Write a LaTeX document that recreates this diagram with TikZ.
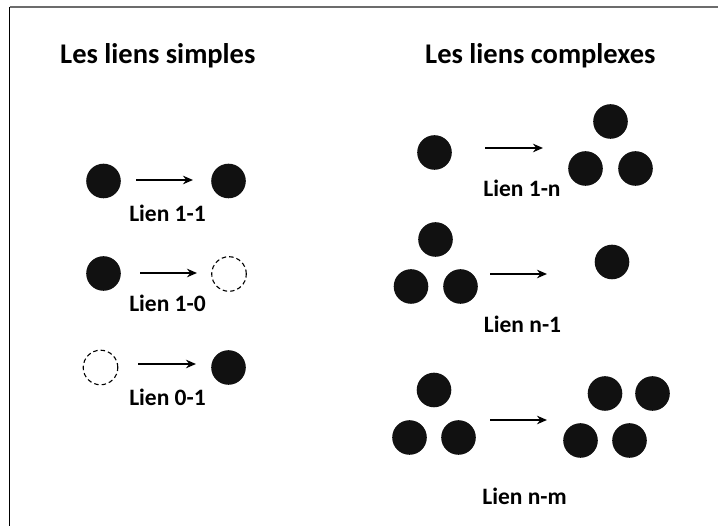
\documentclass[tikz,border=0pt]{standalone}
\usepackage{fontspec}
\setmainfont{Carlito}
\usetikzlibrary{arrows.meta}
\definecolor{dotfill}{HTML}{111111}
\tikzset{
  dot/.style={circle,fill=dotfill,draw=none,minimum size=34.6pt,inner sep=0pt},
  ghost/.style={circle,draw=black,dashed,dash pattern=on 4.5pt off 3pt,line width=1.1pt,minimum size=34.6pt,inner sep=0pt},
  link/.style={line width=1.6pt,-{Stealth[length=10pt,width=8.5pt]}},
  title/.style={font=\bfseries\fontsize{28.5}{32}\selectfont,anchor=base west,inner sep=0pt},
  lab/.style={font=\bfseries\fontsize{23.5}{26}\selectfont,anchor=base,inner sep=0pt}
}
\begin{document}
\begin{tikzpicture}[x=1pt,y=-1pt]
\useasboundingbox (0,0) rectangle (718,526);
\fill[white] (0,0) rectangle (718,526);
% frame
\coordinate (ftl) at (9.5,7);
\coordinate (ftr) at (718,7);
\coordinate (fbl) at (9.5,526);
\draw[gray!85!black,line width=2pt] (ftl) -- (ftr);
\draw[black,line width=1.6pt] (ftl) -- (fbl);
% titles
\node[title] (t1) at (60,63.5) {Les liens simples};
\node[title] (t2) at (425,63.5) {Les liens complexes};
% simple links
\node[dot] (s1a) at (103.5,181) {};
\node[dot] (s1b) at (228.5,181) {};
\coordinate (a1s) at (136,180);
\coordinate (a1e) at (193,180);
\draw[link] (a1s) -- (a1e);
\node[lab] (l1) at (167.5,222) {Lien 1-1};

\node[dot] (s2a) at (103.5,273.5) {};
\node[ghost] (s2b) at (229,274) {};
\coordinate (a2s) at (140,273);
\coordinate (a2e) at (197,273);
\draw[link] (a2s) -- (a2e);
\node[lab] (l2) at (167.5,312) {Lien 1-0};

\node[ghost] (s3a) at (100.5,367.5) {};
\node[dot] (s3b) at (228.5,367.5) {};
\coordinate (a3s) at (138,364);
\coordinate (a3e) at (196,364);
\draw[link] (a3s) -- (a3e);
\node[lab] (l3) at (167.5,406) {Lien 0-1};

% complex links: 1-n
\node[dot] (c1a) at (434.5,152.5) {};
\node[dot] (c1b) at (610.5,121.5) {};
\node[dot] (c1c) at (585.5,168.5) {};
\node[dot] (c1d) at (635.5,168.5) {};
\coordinate (a4s) at (485,148);
\coordinate (a4e) at (543,148);
\draw[link] (a4s) -- (a4e);
\node[lab] (l4) at (522,197) {Lien 1-n};

% n-1
\node[dot] (c2a) at (435.5,239.5) {};
\node[dot] (c2b) at (411,286.5) {};
\node[dot] (c2c) at (460.5,286.5) {};
\node[dot] (c2d) at (612,262) {};
\coordinate (a5s) at (490,274);
\coordinate (a5e) at (547,274);
\draw[link] (a5s) -- (a5e);
\node[lab] (l5) at (522.5,333) {Lien n-1};

% n-m
\node[dot] (c3a) at (434,390) {};
\node[dot] (c3b) at (409.5,437.5) {};
\node[dot] (c3c) at (458.5,437.5) {};
\node[dot] (c3d) at (605,393.5) {};
\node[dot] (c3e) at (652.5,393.5) {};
\node[dot] (c3f) at (580.5,440.5) {};
\node[dot] (c3g) at (629.5,440.5) {};
\coordinate (a6s) at (490,420);
\coordinate (a6e) at (547,420);
\draw[link] (a6s) -- (a6e);
\node[lab] (l6) at (524.5,504) {Lien n-m};
\end{tikzpicture}
\end{document}
